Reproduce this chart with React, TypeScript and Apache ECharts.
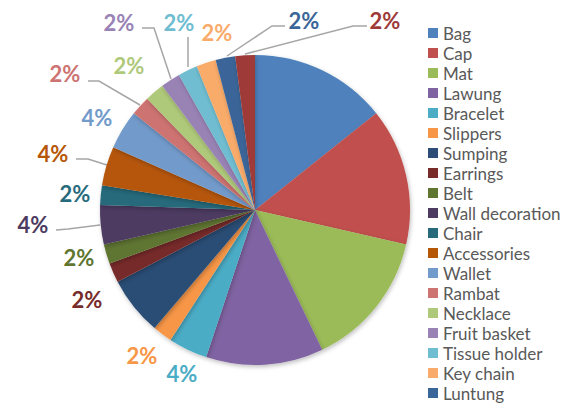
import React, { useEffect, useRef } from "react";
import * as echarts from "echarts";

const categories = [
  "Bag", "Cap", "Mat", "Lawung", "Bracelet", "Slippers", "Sumping", "Earrings", "Belt",
  "Wall decoration", "Chair", "Accessories", "Wallet", "Rambat", "Necklace", "Fruit basket",
  "Tissue holder", "Key chain", "Luntung", "Other",
];
const values = [7, 7, 7, 6, 2, 1, 3, 1, 1, 2, 1, 2, 2, 1, 1, 1, 1, 1, 1, 1];
const colors = [
  "#4F81BD", "#C0504D", "#9BBB59", "#8064A2", "#4BACC6", "#F79646", "#2C4D75", "#772C2A",
  "#5F7530", "#4D3B62", "#276A7C", "#B65708", "#729ACA", "#CD7371", "#AFC97A", "#9983B5",
  "#6FBDD1", "#F9AB6B", "#3A6598", "#9E3A38",
];
const legendNames = categories.slice(0, 19);
const hiddenLabels = ["Bag", "Cap", "Mat", "Lawung", "Sumping"];

// label placement (style only): [x, y] centre of text, optional leader line points
const labelPlace: Record<number, { p: [number, number]; line?: number[][] }> = {
  4: { p: [182, 373] },
  5: { p: [142, 355] },
  7: { p: [87, 299] },
  8: { p: [79, 257] },
  9: { p: [33, 224], line: [[100, 225], [68, 229], [56, 230]] },
  10: { p: [75, 193] },
  11: { p: [53, 153], line: [[107, 165], [88, 159], [76, 159]] },
  12: { p: [97, 117] },
  13: { p: [65, 73], line: [[140, 105], [99, 81], [88, 81]] },
  14: { p: [129, 65] },
  15: { p: [119, 22], line: [[171, 79], [154, 28], [142, 28]] },
  16: { p: [179, 22], line: [[188, 67], [188, 37]] },
  17: { p: [217, 32] },
  18: { p: [304, 20], line: [[227, 56], [272, 26], [285, 26]] },
  19: { p: [385, 20], line: [[245, 54], [353, 26], [367, 26]] },
};

export default function App() {
  const ref = useRef<HTMLDivElement>(null);
  useEffect(() => {
    if (!ref.current) return;
    const chart = echarts.init(ref.current, null, { renderer: "svg" });
    chart.setOption({
      animation: false,
      backgroundColor: "#ffffff",
      legend: {
        orient: "vertical",
        left: 428,
        top: 23.5,
        padding: 0,
        data: legendNames,
        itemWidth: 10,
        itemHeight: 10,
        itemGap: 1,
        icon: "rect",
        textStyle: { fontFamily: "Lato", fontSize: 17, color: "#595959", lineHeight: 19, padding: [0, 0, 0, 0] },
      },
      series: [
        {
          type: "pie",
          center: [255, 210],
          radius: 155,
          startAngle: 90,
          clockwise: true,
          percentPrecision: 0,
          avoidLabelOverlap: false,
          itemStyle: { shadowBlur: 4, shadowOffsetX: 1, shadowOffsetY: 2, shadowColor: "rgba(0,0,0,0.25)" },
          label: {
            show: true,
            position: "outside",
            formatter: "{d}%",
            fontFamily: "Lato",
            fontWeight: "bold",
            fontSize: 22,
          },
          labelLine: { show: true, lineStyle: { color: "#A6A6A6", width: 1.5 }, length: 10, length2: 10 },
          labelLayout: (params: any) => {
            const pl = labelPlace[params.dataIndex];
            if (!pl) return {};
            const r: any = { x: pl.p[0], y: pl.p[1], align: "center", verticalAlign: "middle" };
            if (pl.line) r.labelLinePoints = pl.line.length === 2 ? [pl.line[0], pl.line[1], pl.line[1]] : pl.line;
            else r.labelLinePoints = [[-100, -100], [-100, -100], [-100, -100]];
            return r;
          },
          data: categories.map((name, i) => {
            const pl = labelPlace[i];
            return {
              name,
              value: values[i],
              itemStyle: { color: colors[i] },
              label: { show: !hiddenLabels.includes(name), color: colors[i] },
              labelLine: { show: !!(pl && pl.line) },
            };
          }),
        },
      ],
    });
    return () => chart.dispose();
  }, []);
  return <div ref={ref} style={{ width: 571, height: 403, position: "absolute", left: 0, top: 0 }} />;
}
